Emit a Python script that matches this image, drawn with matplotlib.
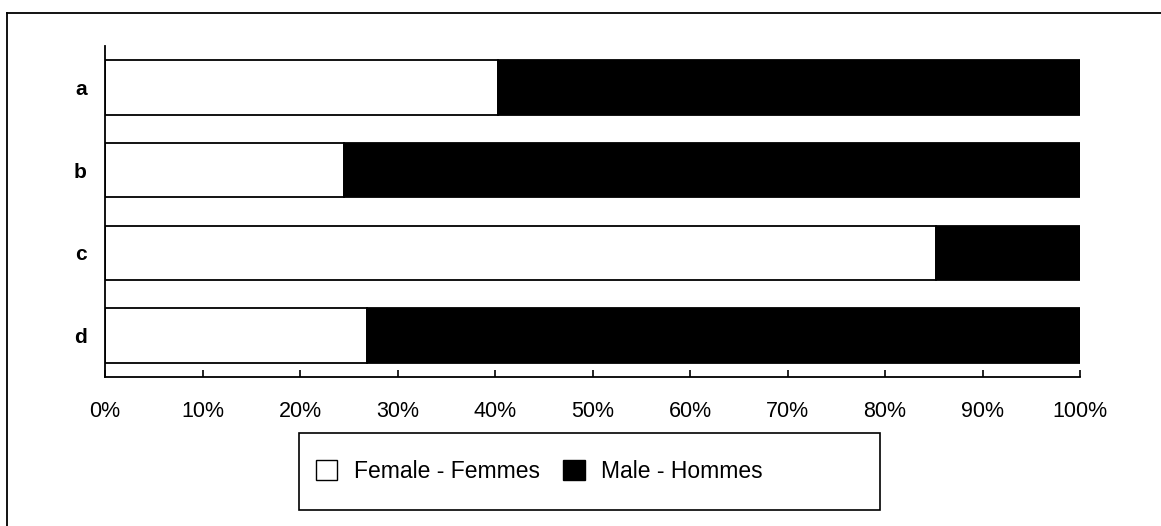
import matplotlib.pyplot as plt
import numpy as np
from matplotlib.patches import Patch, Rectangle
from matplotlib.lines import Line2D

categories = ["a", "b", "c", "d"]
female = [40.3, 24.5, 85.2, 26.9]
male = [59.7, 75.5, 14.8, 73.1]

plt.rcParams['font.family'] = ['Liberation Sans', 'DejaVu Sans']

W, H = 1161, 526
fig = plt.figure(figsize=(W / 100, H / 100), dpi=100)

# axes box in pixels: left 105, right 1080, top 46, bottom 377
ax = fig.add_axes([105 / W, 1 - 377 / H, (1080 - 105) / W, (377 - 46) / H])

y = np.arange(len(categories))
ax.barh(y, female, height=0.66, color="white", edgecolor="black", linewidth=1.3)
ax.barh(y, male, left=female, height=0.66, color="black", edgecolor="black", linewidth=1.3)

ax.set_xlim(0, 100)
ax.set_ylim(len(categories) - 0.5, -0.5)
ax.set_yticks(y)
ax.set_yticklabels(categories, fontweight="bold")
ax.set_xticks(np.arange(0, 101, 10))
ax.set_xticklabels([f"{v}%" for v in range(0, 101, 10)])

for s in ["top", "right"]:
    ax.spines[s].set_visible(False)
for s in ["left", "bottom"]:
    ax.spines[s].set_linewidth(1.3)

ax.tick_params(axis="x", direction="in", length=5, width=1.2, labelsize=15.5, pad=17)
ax.tick_params(axis="y", length=0, labelsize=15, pad=13)

handles = [Patch(facecolor="white", edgecolor="black", linewidth=1.0, label="Female - Femmes"),
           Patch(facecolor="black", edgecolor="black", label="Male - Hommes")]
leg = fig.legend(handles=handles, loc="center left", bbox_to_anchor=(295 / W, 1 - 471 / H),
                 ncol=2, fontsize=16.5, frameon=False,
                 handlelength=0.95, handleheight=0.95, handletextpad=0.72, columnspacing=1.0)

# legend box
fig.add_artist(Rectangle((299 / W, 1 - 510 / H), (880 - 299) / W, (510 - 433) / H,
                         transform=fig.transFigure, facecolor="none", edgecolor="black",
                         linewidth=1.2))

# outer frame (left and top edges)
fig.add_artist(Line2D([7 / W, 7 / W], [0, 1 - 13 / H], color="black", linewidth=1.3))
fig.add_artist(Line2D([7 / W, 1], [1 - 13 / H, 1 - 13 / H], color="black", linewidth=1.3))

fig.savefig("out.png", dpi=100)
